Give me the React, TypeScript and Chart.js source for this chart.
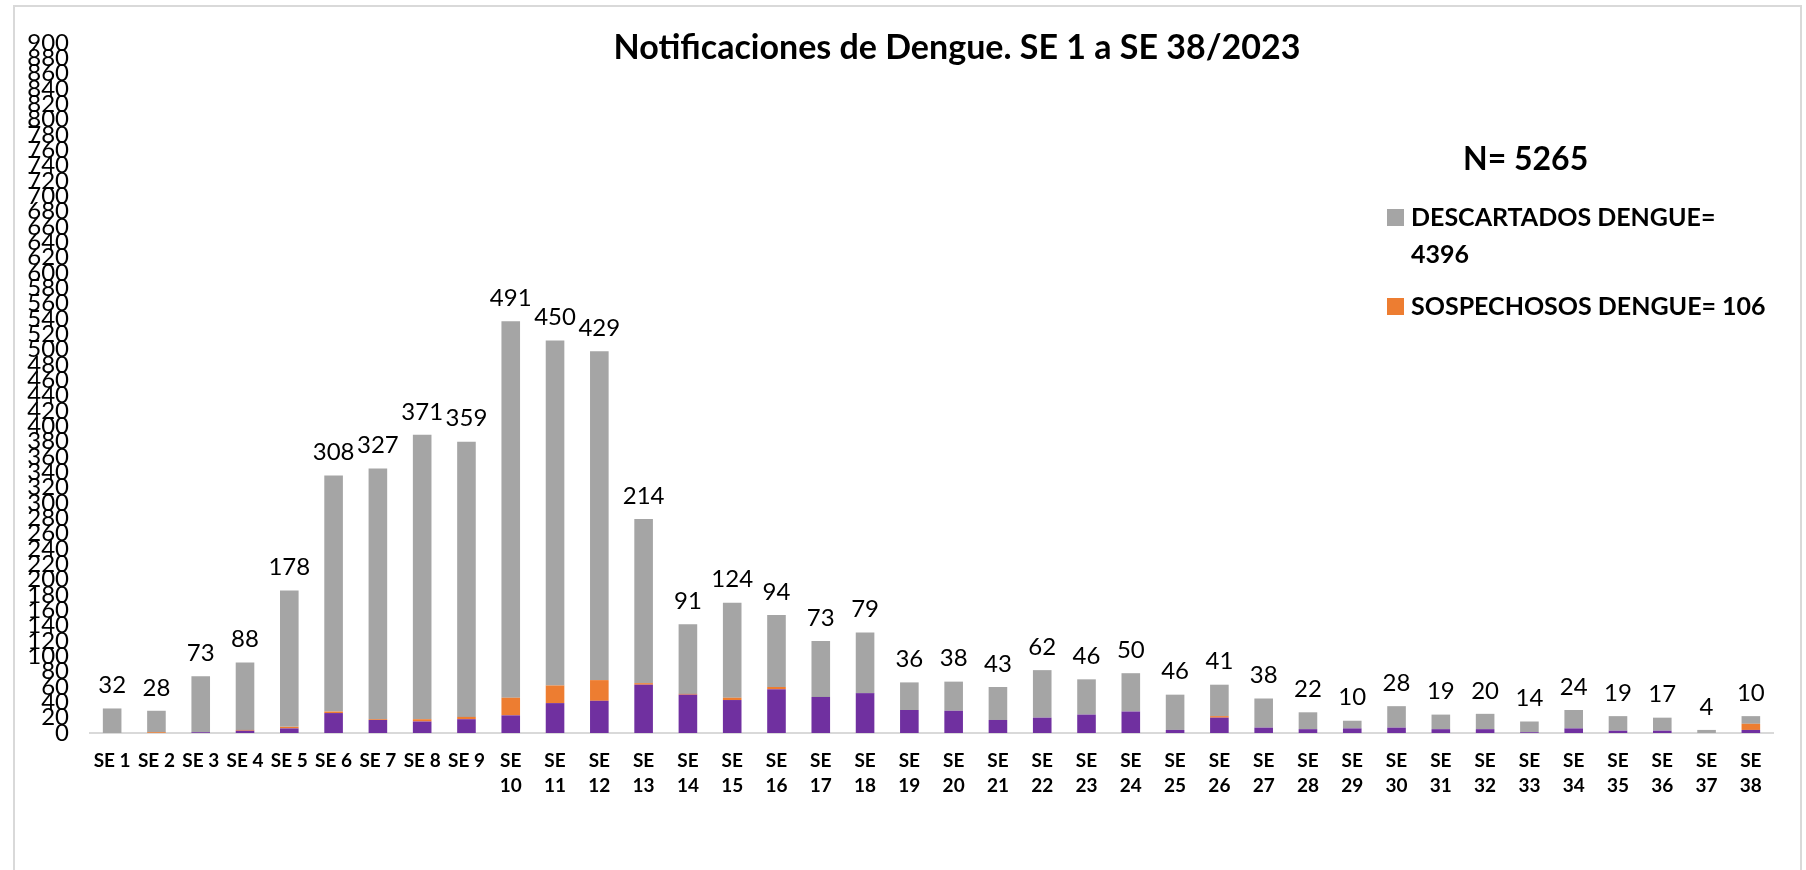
import React, { useEffect, useRef } from "react";
import { Chart, registerables } from "chart.js";

Chart.register(...registerables);

const categories = [
  "SE 1", "SE 2", "SE 3", "SE 4", "SE 5", "SE 6", "SE 7", "SE 8", "SE 9", "SE 10",
  "SE 11", "SE 12", "SE 13", "SE 14", "SE 15", "SE 16", "SE 17", "SE 18", "SE 19", "SE 20",
  "SE 21", "SE 22", "SE 23", "SE 24", "SE 25", "SE 26", "SE 27", "SE 28", "SE 29", "SE 30",
  "SE 31", "SE 32", "SE 33", "SE 34", "SE 35", "SE 36", "SE 37", "SE 38",
];

// purple segment (bottom of each stack)
const confirmados = [
  0, 0, 1, 3, 6, 26, 17, 15, 18, 23,
  39, 42, 63, 50, 43, 57, 47, 52, 30, 29,
  17, 20, 24, 28, 4, 20, 7, 5, 6, 7,
  5, 5, 1, 6, 3, 3, 0, 4,
];

// orange segment
const sospechosos = [
  0, 1, 0, 1, 2, 2, 1, 3, 3, 23,
  23, 27, 2, 1, 3, 3, 0, 0, 0, 0,
  0, 0, 0, 0, 0, 2, 0, 0, 0, 0,
  0, 0, 0, 0, 0, 0, 0, 8,
];

// gray segment (labelled)
const descartados = [
  32, 28, 73, 88, 178, 308, 327, 371, 359, 491,
  450, 429, 214, 91, 124, 94, 73, 79, 36, 38,
  43, 62, 46, 50, 46, 41, 38, 22, 10, 28,
  19, 20, 14, 24, 19, 17, 4, 10,
];

const yMin = 0;
const yMax = 900;
const yStep = 20;

const titleText = "Notificaciones de Dengue. SE 1 a SE 38/2023";
const totalText = "N= 5265";
const legendDescartados = ["DESCARTADOS DENGUE=", "4396"];
const legendSospechosos = ["SOSPECHOSOS DENGUE= 106"];

const COLOR_PURPLE = "#7030a0";
const COLOR_ORANGE = "#ed7d31";
const COLOR_GRAY = "#a5a5a5";
const FONT = "Lato, 'Open Sans', sans-serif";

const decorPlugin = {
  id: "decor",
  beforeDraw(chart: any) {
    const ctx = chart.ctx;
    ctx.save();
    ctx.fillStyle = "#ffffff";
    ctx.fillRect(0, 0, chart.width, chart.height);
    ctx.strokeStyle = "#d9d9d9";
    ctx.lineWidth = 2;
    ctx.strokeRect(14, 6, 1787, 900);
    ctx.restore();
  },
  afterDraw(chart: any) {
    const ctx = chart.ctx;
    ctx.save();
    ctx.fillStyle = "#000000";
    ctx.textBaseline = "alphabetic";
    // title
    ctx.font = `bold 34px ${FONT}`;
    ctx.textAlign = "center";
    ctx.fillText(titleText, 957, 59);
    // N=
    ctx.font = `bold 32px ${FONT}`;
    ctx.textAlign = "left";
    ctx.fillText(totalText, 1463, 170);
    // legend
    ctx.font = `bold 25px ${FONT}`;
    ctx.fillStyle = COLOR_GRAY;
    ctx.fillRect(1387, 209, 17, 17);
    ctx.fillStyle = "#000000";
    legendDescartados.forEach((t, i) => ctx.fillText(t, 1411, 226 + i * 37));
    ctx.fillStyle = COLOR_ORANGE;
    ctx.fillRect(1387, 298, 17, 17);
    ctx.fillStyle = "#000000";
    legendSospechosos.forEach((t, i) => ctx.fillText(t, 1411, 315 + i * 37));
    ctx.restore();
  },
  afterDatasetsDraw(chart: any) {
    const ctx = chart.ctx;
    const xs = chart.scales.x;
    const ys = chart.scales.y;
    ctx.save();
    ctx.font = `24px ${FONT}`;
    ctx.fillStyle = "#000000";
    ctx.textAlign = "center";
    ctx.textBaseline = "bottom";
    descartados.forEach((v, i) => {
      const total = confirmados[i] + sospechosos[i] + v;
      const x = xs.getPixelForValue(i);
      const y = ys.getPixelForValue(total) - 11;
      ctx.fillText(String(v), x, y);
    });
    ctx.restore();
  },
};

export default function App() {
  const ref = useRef<HTMLCanvasElement | null>(null);
  useEffect(() => {
    if (!ref.current) return;
    const chart = new Chart(ref.current, {
      type: "bar",
      data: {
        labels: categories,
        datasets: [
          { label: "CONFIRMADOS", data: confirmados, backgroundColor: COLOR_PURPLE },
          { label: "SOSPECHOSOS DENGUE", data: sospechosos, backgroundColor: COLOR_ORANGE },
          { label: "DESCARTADOS DENGUE", data: descartados, backgroundColor: COLOR_GRAY },
        ],
      },
      options: {
        responsive: false,
        animation: false,
        devicePixelRatio: 1,
        datasets: { bar: { categoryPercentage: 1, barPercentage: 0.42 } },
        layout: { padding: { left: 0, right: 33, top: 43, bottom: 0 } },
        plugins: {
          legend: { display: false },
          title: { display: false },
          tooltip: { enabled: false },
        },
        scales: {
          x: {
            stacked: true,
            grid: { display: false, drawTicks: false },
            border: { display: true, color: "#d9d9d9", width: 2 },
            afterFit: (s: any) => { s.height = 137; },
            ticks: {
              autoSkip: false,
              maxRotation: 0,
              minRotation: 0,
              padding: 16,
              color: "#000000",
              font: { family: FONT, size: 19, weight: "bold", lineHeight: 1.3 },
              callback: (_v: any, i: number) => {
                const s = categories[i];
                return s.length > 4 ? s.split(" ") : s;
              },
            },
          },
          y: {
            stacked: true,
            min: yMin,
            max: yMax,
            grid: { display: false, drawTicks: false },
            border: { display: false },
            afterFit: (s: any) => { s.width = 90; },
            ticks: {
              stepSize: yStep,
              autoSkip: false,
              padding: 21,
              color: "#000000",
              font: { family: FONT, size: 24 },
            },
          },
        },
      },
      plugins: [decorPlugin],
    });
    return () => chart.destroy();
  }, []);
  return (
    <div style={{ position: "absolute", left: 0, top: 0, width: 1806, height: 870 }}>
      <canvas ref={ref} width={1806} height={870} style={{ display: "block" }} />
    </div>
  );
}
